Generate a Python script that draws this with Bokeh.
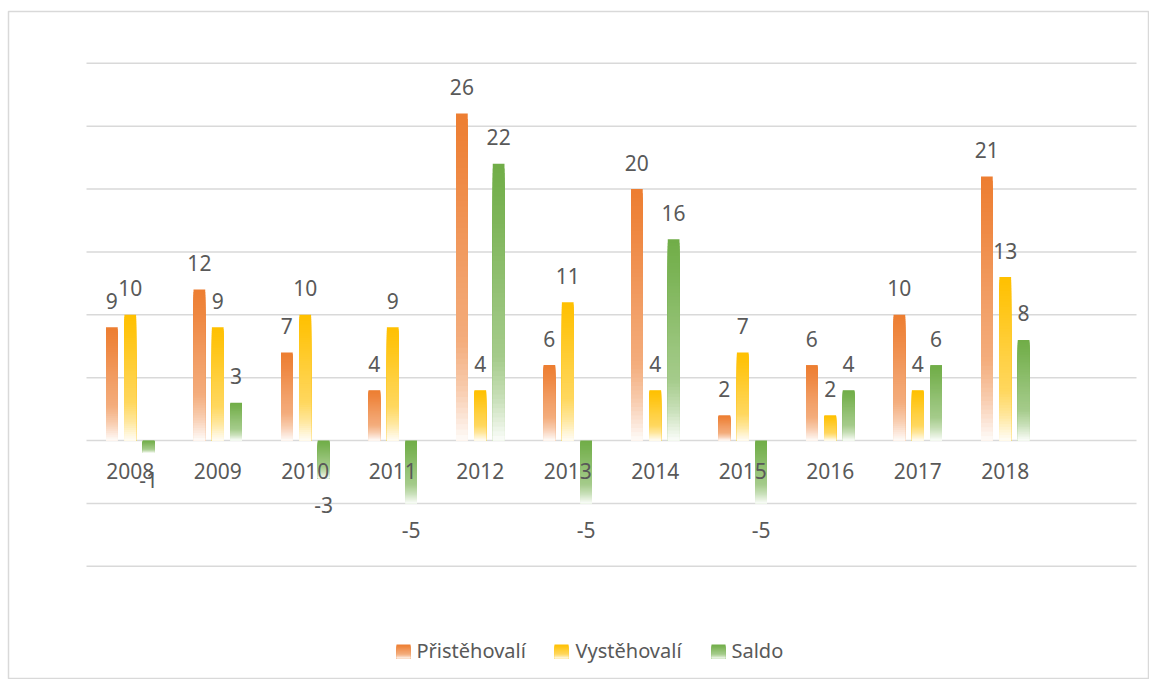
import numpy as np
from bokeh.plotting import figure
from bokeh.core.properties import value
from bokeh.embed import file_html
from bokeh.resources import INLINE

# ---- data ----
years = ["2008", "2009", "2010", "2011", "2012", "2013", "2014", "2015", "2016", "2017", "2018"]
pristehovali = [9, 12, 7, 4, 26, 6, 20, 2, 6, 10, 21]
vystehovali = [10, 9, 10, 9, 4, 11, 4, 7, 2, 4, 13]
saldo = [-1, 3, -3, -5, 22, -5, 16, -5, 4, 6, 8]
series_names = ["Přistěhovalí", "Vystěhovalí", "Saldo"]
series_colors = ["#ED7D31", "#FFC000", "#70AD47"]
y_ticks = [-10, -5, 0, 5, 10, 15, 20, 25, 30]
n_slots = 12

series_values = [pristehovali, vystehovali, saldo]

# ---- layout ----
W, H = 1149, 679
LEFT, TOP = 8, 11
FRAME_W, FRAME_H = W - LEFT, H - TOP
PX_X = 87.5      # px per category slot
PX_Y = 12.575    # px per unit
X0_PX = 78       # x=0 in frame px
Y0_PX = 429      # y=0 in frame px from top
TEXT_FIX = 9     # baseline correction (px, upward)

x_start = -X0_PX / PX_X
x_end = x_start + FRAME_W / PX_X
y_end = Y0_PX / PX_Y
y_start = y_end - FRAME_H / PX_Y

def dx(px):
    return px / PX_X

def dy(px):
    return px / PX_Y

p = figure(width=W, height=H, x_range=(x_start, x_end), y_range=(y_start, y_end),
           output_backend="svg", toolbar_location=None, min_border=0,
           min_border_left=LEFT, min_border_top=TOP)
p.axis.visible = False
p.grid.visible = False
p.outline_line_color = "#D9D9D9"
p.outline_line_width = 1.5
p.background_fill_color = "white"
p.border_fill_color = "white"

FONT = value("Noto Sans")
TXT = "#595959"
FS = "21px"

# grid lines
p.segment(x0=[0] * len(y_ticks), x1=[n_slots] * len(y_ticks), y0=y_ticks, y1=y_ticks,
          line_color="#D9D9D9", line_width=1.5)

def hex2rgb(h):
    h = h.lstrip("#")
    return np.array([int(h[i:i + 2], 16) for i in (0, 2, 4)], dtype=float)

def mix(base, f):
    c = base + (255 - base) * f
    return "#%02x%02x%02x" % tuple(int(round(v)) for v in c)

ft_t = [0.0, 0.15, 0.5, 0.7, 0.85, 1.0]
ft_f = [0.0, 0.07, 0.27, 0.37, 0.62, 0.97]
N = 60

offset_step = 0.21
bar_w = 0.134

def gradient_bar(L, R, T, B, C, left, right, top, bot, base, n):
    # overlapping slices: each runs from its start down to the bar end
    for k in range(n):
        t0 = k / n
        t1 = (k + 1) / n
        L.append(left)
        R.append(right)
        T.append(top - (top - bot) * t0)
        B.append(bot)
        C.append(mix(base, np.interp((t0 + t1) / 2, ft_t, ft_f)))

for s, (vals, col) in enumerate(zip(series_values, series_colors)):
    base = hex2rgb(col)
    L, R, T, B, C = [], [], [], [], []
    for i, v in enumerate(vals):
        xc = i + 0.5 + (s - 1) * offset_step
        gradient_bar(L, R, T, B, C, xc - bar_w / 2, xc + bar_w / 2,
                     max(v, 0), min(v, 0), base, N)
    p.quad(left=L, right=R, top=T, bottom=B, fill_color=C, line_color=None)

# value labels
for s, vals in enumerate(series_values):
    xs, ys, ts = [], [], []
    for i, v in enumerate(vals):
        xs.append(i + 0.5 + (s - 1) * offset_step)
        ys.append((v + dy(17.5) if v >= 0 else v - dy(36)) + dy(TEXT_FIX))
        ts.append(str(v))
    p.text(x=xs, y=ys, text=ts, text_font=FONT, text_font_size=FS,
           text_color=TXT, text_align="center", text_baseline="alphabetic")

# category labels
p.text(x=[i + 0.5 for i in range(len(years))], y=[-dy(39) + dy(TEXT_FIX)] * len(years),
       text=years, text_font=FONT, text_font_size=FS, text_color=TXT,
       text_align="center", text_baseline="alphabetic")

# legend
leg_sq_px = [403, 561, 718]
leg_tx_px = [416, 575, 731]
sq_half = 7
leg_center_y = -dy(651 - 440)
for name, col, sqx, txx in zip(series_names, series_colors, leg_sq_px, leg_tx_px):
    base = hex2rgb(col)
    cx = dx(sqx - 86)
    L, R, T, B, C = [], [], [], [], []
    gradient_bar(L, R, T, B, C, cx - dx(sq_half), cx + dx(sq_half),
                 leg_center_y + dy(sq_half), leg_center_y - dy(sq_half), base, 14)
    p.quad(left=L, right=R, top=T, bottom=B, fill_color=C, line_color=None)
    p.text(x=[dx(txx - 86)], y=[-dy(658 - 440) + dy(TEXT_FIX - 1)], text=[name],
           text_font=FONT, text_font_size="20px", text_color=TXT, text_align="left",
           text_baseline="alphabetic")

open("out.html", "w").write(file_html(p, INLINE))
